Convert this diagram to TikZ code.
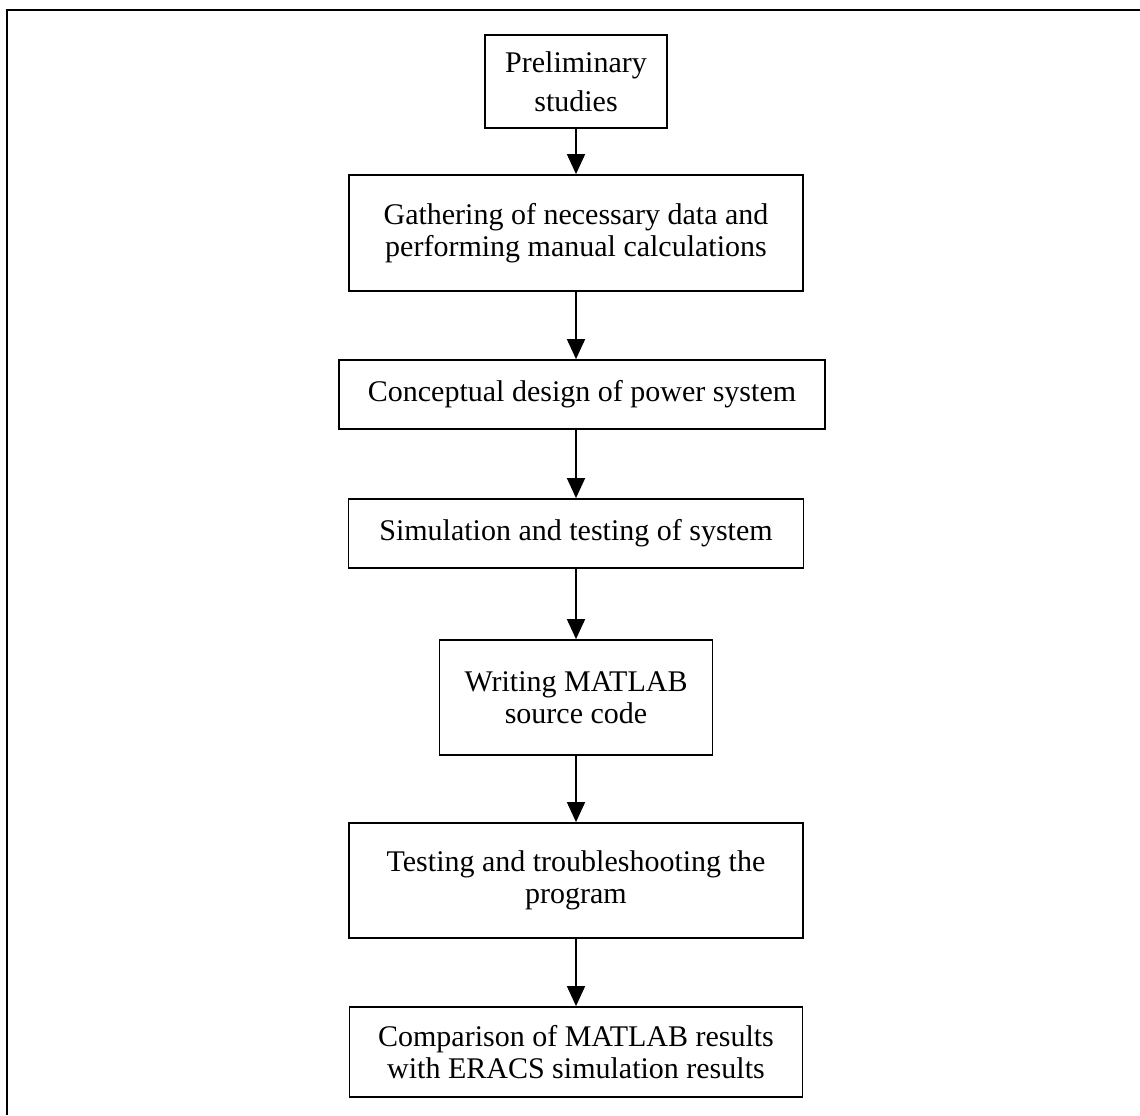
\documentclass[tikz,border=0pt]{standalone}
\usepackage{fontspec}
\setmainfont{Liberation Serif}
\usetikzlibrary{arrows.meta}
\begin{document}
\begin{tikzpicture}[x=0.5pt, y=-0.5pt,
    stage/.style={draw, line width=0.9pt, align=center, inner sep=0pt,
      font=\fontsize{15pt}{16pt}\selectfont},
    flow/.style={line width=0.8pt, -{Triangle[length=10pt, width=9pt]}}]
  \useasboundingbox (0,0) rectangle (1140,1115);
  % page frame, cut off at the right and bottom edges
  \draw[line width=1.3pt] (1140,10) -- (7,10) -- (7,1115);
  % the stages, top to bottom
  \node[stage, minimum width=91pt, minimum height=46.5pt,
        font=\fontsize{15pt}{19.5pt}\selectfont] (prelim) at (576,81.5) {Preliminary\\studies};
  \node[stage, minimum width=227pt, minimum height=58pt] (gather) at (576,233)
        {Gathering of necessary data and\\performing manual calculations};
  \node[stage, minimum width=243pt, minimum height=34.5pt] (concept) at (582,394.5)
        {Conceptual design of power system};
  \node[stage, minimum width=227.5pt, minimum height=34.5pt] (simul) at (576,533.5)
        {Simulation and testing of system};
  \node[stage, minimum width=136.5pt, minimum height=57.5pt] (matlab) at (576,697.5)
        {Writing MATLAB\\source code};
  \node[stage, minimum width=227pt, minimum height=57.5pt] (trouble) at (576,880.5)
        {Testing and troubleshooting the\\program};
  \node[stage, minimum width=226.5pt, minimum height=45pt] (compare) at (576,1052)
        {Comparison of MATLAB results\\with ERACS simulation results};
  % arrows between the stages
  \draw[flow] (prelim) -- (gather);
  \draw[flow] (gather) -- (concept.north -| gather);
  \draw[flow] (concept.south -| simul) -- (simul);
  \draw[flow] (simul) -- (matlab);
  \draw[flow] (matlab) -- (trouble);
  \draw[flow] (trouble) -- (compare);
\end{tikzpicture}
\end{document}
